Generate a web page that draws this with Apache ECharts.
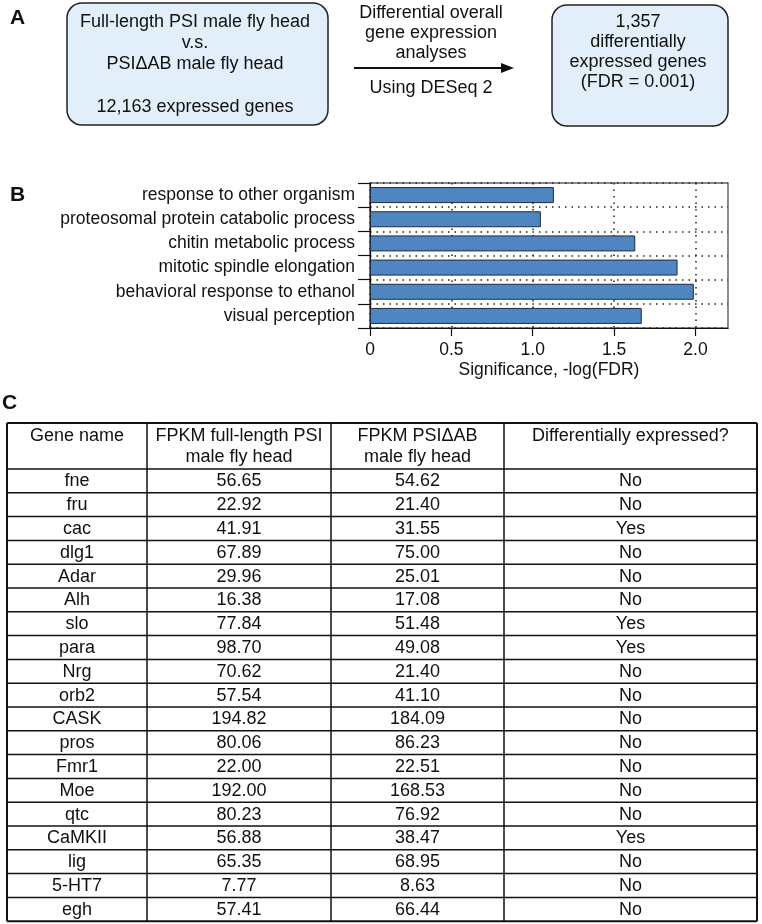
<!DOCTYPE html>
<html>
<head>
<meta charset="utf-8">
<script src="https://cdn.jsdelivr.net/npm/echarts@6/dist/echarts.min.js"></script>
<style>
html,body{margin:0;padding:0;background:#fff;}
#chart{width:762px;height:924px;}
</style>
</head>
<body>
<div id="chart"></div>
<script>
// ---------- DATA ----------
const goTerms = [
  'response to other organism',
  'proteosomal protein catabolic process',
  'chitin metabolic process',
  'mitotic spindle elongation',
  'behavioral response to ethanol',
  'visual perception'
];
const goSignificance = [1.13, 1.05, 1.63, 1.89, 1.99, 1.67];
const xTickValues = [0, 0.5, 1.0, 1.5, 2.0];

const geneNames = ['fne','fru','cac','dlg1','Adar','Alh','slo','para','Nrg','orb2','CASK','pros','Fmr1','Moe','qtc','CaMKII','lig','5-HT7','egh'];
const fpkmFull  = [56.65,22.92,41.91,67.89,29.96,16.38,77.84,98.70,70.62,57.54,194.82,80.06,22.00,192.00,80.23,56.88,65.35,7.77,57.41];
const fpkmDelta = [54.62,21.40,31.55,75.00,25.01,17.08,51.48,49.08,21.40,41.10,184.09,86.23,22.51,168.53,76.92,38.47,68.95,8.63,66.44];
const diffExpr  = ['No','No','Yes','No','No','No','Yes','Yes','No','No','No','No','No','No','No','Yes','No','No','No'];
const tableHeader = [
  ['Gene name'],
  ['FPKM full-length PSI', 'male fly head'],
  ['FPKM PSI\u0394AB', 'male fly head'],
  ['Differentially expressed?']
];
const boxLeftText = ['Full-length PSI male fly head', 'v.s.', 'PSI\u0394AB male fly head', '', '12,163 expressed genes'];
const arrowTextTop = ['Differential overall', 'gene expression', 'analyses'];
const arrowTextBottom = ['Using DESeq 2'];
const boxRightText = ['1,357', 'differentially', 'expressed genes', '(FDR = 0.001)'];

// ---------- LAYOUT / STYLE ----------
const FONT = '"Liberation Sans", Arial, Helvetica, sans-serif';
const FS = 18;      // panel A and table text
const FSB = 17.5;   // panel B text
const TXT = '#111';
const graphics = [];

function txt(s, x, y, opts) {
  opts = opts || {};
  graphics.push({
    type: 'text', x: x, y: y, silent: true,
    style: {
      text: s, fill: opts.color || TXT,
      fontSize: opts.size || FS, fontFamily: FONT,
      fontWeight: opts.weight || 'normal',
      align: opts.align || 'center', verticalAlign: 'middle'
    }
  });
}
function hline(x1, y1, x2, y2, w, c) {
  graphics.push({ type: 'line', silent: true,
    shape: { x1: x1, y1: y1, x2: x2, y2: y2 },
    style: { stroke: c || '#111', lineWidth: w || 1.5 } });
}

// Panel labels
txt('A', 10, 18, { size: 21, weight: 'bold', align: 'left' });
txt('B', 10, 195, { size: 21, weight: 'bold', align: 'left' });
txt('C', 2, 403, { size: 21, weight: 'bold', align: 'left' });

// Panel A boxes
const boxFill = '#e2eefa';
graphics.push({ type: 'rect', silent: true, shape: { x: 67, y: 3, width: 261, height: 122, r: 15 },
  style: { fill: boxFill, stroke: '#222', lineWidth: 1.5 } });
graphics.push({ type: 'rect', silent: true, shape: { x: 552, y: 5, width: 176, height: 121, r: 15 },
  style: { fill: boxFill, stroke: '#222', lineWidth: 1.5 } });
boxLeftText.forEach((s, i) => { if (s) txt(s, 195, 22 + i * 21.2); });
boxRightText.forEach((s, i) => txt(s, 638, 22 + i * 20));
arrowTextTop.forEach((s, i) => txt(s, 431, 13 + i * 20));
arrowTextBottom.forEach((s, i) => txt(s, 431, 88 + i * 20));
hline(354, 68, 503, 68, 2, '#111');
graphics.push({ type: 'polygon', silent: true, shape: { points: [[514, 68], [501, 63], [501, 73]] },
  style: { fill: '#111' } });

// Panel C table
const colX = [7, 147, 331, 504, 757];
const tableTop = 423, headerH = 46, rowH = 23.8;
const nRows = geneNames.length;
const tableBottom = tableTop + headerH + rowH * nRows;
hline(colX[0], tableTop, colX[4], tableTop, 2);
hline(colX[0], tableTop + headerH, colX[4], tableTop + headerH, 1.5);
for (let r = 1; r <= nRows; r++) {
  const y = tableTop + headerH + rowH * r;
  hline(colX[0], y, colX[4], y, r === nRows ? 2 : 1.5);
}
colX.forEach((x, i) => hline(x, tableTop, x, tableBottom, (i === 0 || i === 4) ? 2 : 1.5));
tableHeader.forEach((lines, c) => {
  const cx = (colX[c] + colX[c + 1]) / 2;
  lines.forEach((s, j) => txt(s, cx, tableTop + 13 + j * 21.5));
});
for (let r = 0; r < nRows; r++) {
  const cy = tableTop + headerH + rowH * r + rowH / 2 + 0.5;
  const cells = [geneNames[r], fpkmFull[r].toFixed(2), fpkmDelta[r].toFixed(2), diffExpr[r]];
  cells.forEach((s, c) => txt(s, (colX[c] + colX[c + 1]) / 2, cy));
}

// ---------- CHART ----------
const chart = echarts.init(document.getElementById('chart'), null, { renderer: 'canvas' });
const dotted = { type: [1.5, 5], color: '#222', width: 1.5 };
chart.setOption({
  animation: false,
  backgroundColor: '#fff',
  textStyle: { fontFamily: FONT },
  grid: { left: 370, top: 183, width: 358, height: 145, show: true, borderColor: '#666', borderWidth: 1.5, containLabel: false, outerBoundsMode: 'none' },
  xAxis: {
    type: 'value', min: 0, max: 2.2, interval: 0.5,
    name: 'Significance, -log(FDR)', nameLocation: 'middle', nameGap: 33,
    nameTextStyle: { fontSize: FSB, color: TXT, fontFamily: FONT },
    axisLine: { show: true, lineStyle: { color: '#111', width: 1.2 } },
    axisTick: { show: true, length: 8, lineStyle: { color: '#111', width: 1.2 }, customValues: xTickValues },
    axisLabel: { fontSize: FSB, color: TXT, margin: 13, fontFamily: FONT, customValues: xTickValues,
      formatter: v => (v === 0 ? '0' : v.toFixed(1)) },
    splitLine: { show: true, lineStyle: dotted }
  },
  yAxis: {
    type: 'category', data: goTerms, inverse: true,
    axisLine: { show: true, lineStyle: { color: '#111', width: 1.2 } },
    axisTick: { show: true, length: 12, lineStyle: { color: '#111', width: 1.2 } },
    axisLabel: { fontSize: FSB, color: TXT, margin: 15, fontFamily: FONT },
    splitLine: { show: true, lineStyle: dotted }
  },
  series: [{
    type: 'bar', data: goSignificance, barWidth: 16,
    itemStyle: { color: '#4f86c1', borderColor: '#1d2d40', borderWidth: 1 }
  }],
  graphic: graphics
});
</script>
</body>
</html>
